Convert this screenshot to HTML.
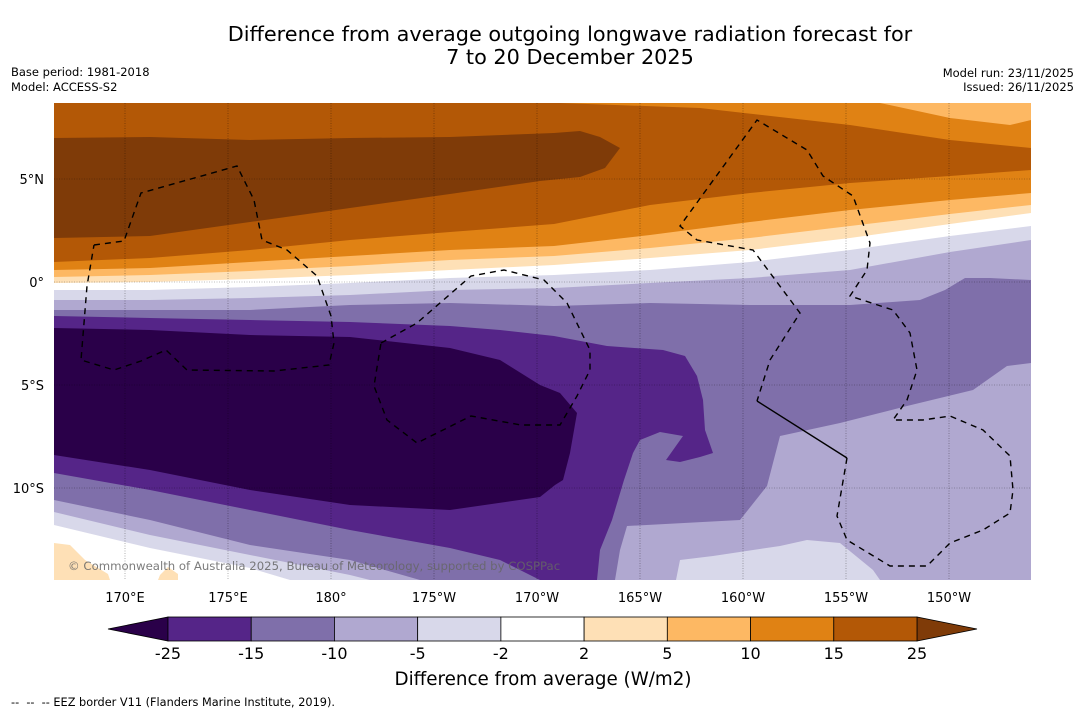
<!DOCTYPE html>
<html><head><meta charset="utf-8">
<style>
body{margin:0;background:#fff;width:1085px;height:713px;overflow:hidden;font-family:"DejaVu Sans","Liberation Sans",sans-serif;}
svg{display:block}
</style></head>
<body>
<svg id="fig" width="1085" height="713" xmlns="http://www.w3.org/2000/svg">
<text x="570" y="41" text-anchor="middle" font-size="20.8" fill="#000">Difference from average outgoing longwave radiation forecast for</text>
<text x="570" y="64" text-anchor="middle" font-size="20.8" fill="#000">7 to 20 December 2025</text>
<text x="11" y="76" font-size="11.5">Base period: 1981-2018</text>
<text x="11" y="91" font-size="11.5">Model: ACCESS-S2</text>
<text x="1074" y="77" font-size="11.5" text-anchor="end">Model run: 23/11/2025</text>
<text x="1074" y="91" font-size="11.5" text-anchor="end">Issued: 26/11/2025</text>

<defs><clipPath id="mapclip"><rect x="54" y="103" width="977" height="477"/></clipPath></defs>
<g clip-path="url(#mapclip)">
<rect x="54" y="103" width="977" height="477" fill="#ffffff"/>
<polygon fill="#fee0b6" points="54,103 1031,103 1031,213 950,224 850,238 750,250 650,258 554,265 450,270 350,275 250,279 150,282 54,283"/>
<polygon fill="#fdb863" points="54,103 1031,103 1031,205 950,214 850,226 750,238 650,248 554,256 450,260 350,266 250,271 150,275 54,277"/>
<polygon fill="#e08214" points="54,103 1031,103 1031,193 950,200 850,210 750,222 650,235 554,246 450,250 350,256 250,262 150,268 54,270"/>
<polygon fill="#b35806" points="54,103 1031,103 1031,170 950,176 850,183 750,193 650,205 554,224 450,232 350,240 250,250 150,258 54,262"/>
<polygon fill="#7f3b08" points="54,138 150,137 250,140 350,138 450,137 554,133 580,131 600,137 620,148 605,168 580,177 540,181 450,194 350,208 250,222 150,236 54,238"/>
<polygon fill="#e08214" points="560,103 700,108 850,125 950,140 1031,148 1031,103"/>
<polygon fill="#fdb863" points="880,103 950,118 1010,125 1031,120 1031,103"/>

<polygon fill="#d8d8ea" points="54,290 150,290 250,287 350,283 450,278 554,275 650,270 750,262 850,250 950,236 1031,226 1031,580 54,580"/>
<polygon fill="#b0a8d0" points="54,300 150,300 250,298 350,295 450,290 554,288 650,283 750,278 850,270 950,252 1031,240 1031,580 54,580"/>
<polygon fill="#7f6faa" points="54,310 150,310 250,310 350,305 450,303 554,306 650,303 750,305 850,305 920,300 945,290 965,278 990,278 1031,280 1031,580 54,580"/>
<polygon fill="#552588" points="54,316 150,318 250,320 350,322 450,326 500,330 554,336 607,346 663,350 685,356 697,376 703,400 705,430 713,453 700,457 680,462 666,460 683,436 660,432 640,440 633,453 624,480 612,520 600,550 597,580 540,580 530,575 500,560 450,548 350,530 250,510 150,490 54,473"/>
<polygon fill="#2a0049" points="54,328 150,330 250,335 350,337 450,348 500,360 540,385 560,393 577,413 570,453 563,480 555,485 540,497 450,510 350,505 250,490 150,470 54,455"/>
<polygon fill="#b0a8d0" points="54,500 150,520 250,545 350,560 420,580 54,580"/>
<polygon fill="#b0a8d0" points="615,580 620,550 627,526 740,520 767,486 780,436 840,423 907,406 973,390 1007,366 1031,363 1031,580"/>
<polygon fill="#d8d8ea" points="54,512 150,535 250,555 350,575 370,580 54,580"/>
<polygon fill="#d8d8ea" points="676,580 680,560 713,556 780,546 807,540 840,543 873,570 880,580"/>
<polygon fill="#ffffff" points="54,525 150,548 250,568 290,580 54,580"/>
<polygon fill="#fee0b6" points="54,543 70,545 85,560 108,574 110,580 54,580"/>
<polygon fill="#fee0b6" points="160,575 168,567 178,574 178,580 158,580"/>

<g stroke="#000" stroke-width="0.6" stroke-dasharray="1,1.5" opacity="0.5">
<line x1="125" y1="103" x2="125" y2="580"/><line x1="228" y1="103" x2="228" y2="580"/><line x1="331" y1="103" x2="331" y2="580"/><line x1="434" y1="103" x2="434" y2="580"/><line x1="537" y1="103" x2="537" y2="580"/><line x1="640" y1="103" x2="640" y2="580"/><line x1="743" y1="103" x2="743" y2="580"/><line x1="846" y1="103" x2="846" y2="580"/><line x1="949" y1="103" x2="949" y2="580"/>
<line x1="54" y1="179" x2="1031" y2="179"/><line x1="54" y1="282" x2="1031" y2="282"/><line x1="54" y1="385" x2="1031" y2="385"/><line x1="54" y1="488" x2="1031" y2="488"/>
</g>
<g fill="none" stroke="#000" stroke-width="1.4" stroke-dasharray="6,5">
<polyline points="94,245 124,241 141,193 237,166 254,200 262,240 287,250 317,276 331,316 334,343 329,365 274,371 187,370 166,350 141,361 114,370 81,360 87,286 94,245"/>
<polyline points="381,343 417,323 471,276 504,270 544,280 567,303 590,350 590,370 577,396 560,425 521,425 471,416 417,443 387,420 374,386 381,343"/>
<polyline points="847,458 837,516 847,540 890,566 927,566 950,543 983,530 1010,513 1013,490 1010,456 983,430 950,416 923,420 893,420 907,400 917,370 910,333 893,310 850,296 867,270 870,243 853,196 823,176 807,150 757,120 680,226 697,240 753,250 800,313 770,360 757,401"/>
<line x1="757" y1="401" x2="847" y2="458" stroke-dasharray="none"/>
</g>
<text x="68" y="570" font-size="11.7" fill="#666" opacity="0.85">© Commonwealth of Australia 2025, Bureau of Meteorology, supported by COSPPac</text>
</g>

<g font-size="13" text-anchor="middle">
<text x="125" y="602">170°E</text><text x="228" y="602">175°E</text><text x="331" y="602">180°</text><text x="434" y="602">175°W</text><text x="537" y="602">170°W</text><text x="640" y="602">165°W</text><text x="743" y="602">160°W</text><text x="846" y="602">155°W</text><text x="949" y="602">150°W</text>
</g>
<g font-size="13" text-anchor="end">
<text x="44" y="184">5°N</text><text x="44" y="287">0°</text><text x="44" y="390">5°S</text><text x="44" y="493">10°S</text>
</g>

<g id="cbar"></g>
<text x="543" y="685" text-anchor="middle" font-size="18.3">Difference from average (W/m2)</text>
<text x="11" y="706" font-size="11.3" style="white-space:pre">--  --  -- EEZ border V11 (Flanders Marine Institute, 2019).</text>
</svg>
<script>
const levelLabels = ["-25","-15","-10","-5","-2","2","5","10","15","25"];
const binColors = ["#552588","#7f6faa","#b0a8d0","#d8d8ea","#ffffff","#fee0b6","#fdb863","#e08214","#b35806"];
const extendColors = ["#2a0049","#7f3b08"];
const NS="http://www.w3.org/2000/svg";
const g=document.getElementById('cbar');
const x0=168,x1=917,y0=617,h=24;
const w=(x1-x0)/binColors.length;
function mk(t,a){const e=document.createElementNS(NS,t);for(const k in a)e.setAttribute(k,a[k]);g.appendChild(e);return e;}
let lt=mk('polygon',{points:`108,${y0+h/2} ${x0},${y0} ${x0},${y0+h}`,fill:extendColors[0],stroke:'#000','stroke-width':0.8});


let rt=mk('polygon',{points:`977,${y0+h/2} ${x1},${y0} ${x1},${y0+h}`,fill:extendColors[1],stroke:'#000','stroke-width':0.8});


binColors.forEach((c,i)=>{
  const r=mk('rect',{x:x0+i*w,y:y0,width:w,height:h,fill:c,stroke:'#000','stroke-width':0.8});
  
  
});
levelLabels.forEach((l,i)=>{
  const t=mk('text',{x:x0+i*w,y:659,'text-anchor':'middle','font-size':16});
  t.textContent=l;
  
  
});
</script>
</body></html>
